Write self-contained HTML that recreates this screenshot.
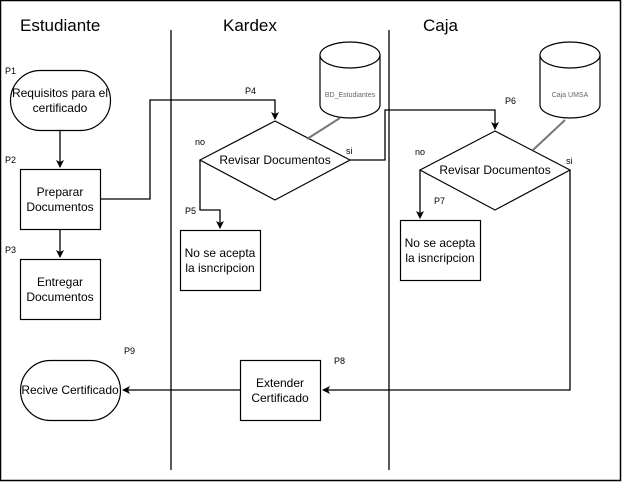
<!DOCTYPE html>
<html><head><meta charset="utf-8"><style>
html,body{margin:0;padding:0;background:#fff;width:622px;height:482px;overflow:hidden}
text{font-family:"Liberation Sans",Arial,sans-serif;fill:#000}
</style></head><body>
<svg width="622" height="482" viewBox="0 0 622 482" xmlns="http://www.w3.org/2000/svg">
<defs><marker id="a" markerWidth="10" markerHeight="10" refX="7" refY="4" orient="auto" markerUnits="userSpaceOnUse"><path d="M0,0 L8,4 L0,8 L2,4 Z" fill="#000"/></marker></defs>
<rect x="0.5" y="0.5" width="620" height="480" fill="#fff" stroke="#000" stroke-width="1.5"/>
<line x1="171" y1="30" x2="171" y2="470" stroke="#000" stroke-width="1.3"/>
<line x1="389" y1="30" x2="389" y2="470" stroke="#000" stroke-width="1.3"/>
<text x="20" y="31" font-size="17">Estudiante</text>
<text x="223" y="31" font-size="17">Kardex</text>
<text x="423" y="31" font-size="17">Caja</text>
<g font-size="9">
<text x="5" y="74">P1</text><text x="5" y="163">P2</text><text x="5" y="253">P3</text>
<text x="245" y="94">P4</text><text x="185" y="214">P5</text><text x="505" y="104">P6</text>
<text x="434" y="204">P7</text><text x="334" y="364">P8</text><text x="124" y="354">P9</text>
<text x="195" y="145">no</text><text x="346" y="154">si</text>
<text x="415" y="155">no</text><text x="566" y="164">si</text>
</g>
<g fill="#fff" stroke="#000" stroke-width="1.2">
<rect x="10.5" y="70.5" width="100" height="60" rx="30"/>
<rect x="20.5" y="169.5" width="80" height="60"/>
<rect x="20.5" y="259.5" width="80" height="60"/>
<rect x="20.5" y="360.5" width="100" height="60" rx="30"/>
<rect x="180.5" y="230.5" width="80" height="60"/>
<rect x="400.5" y="220.5" width="80" height="60"/>
<rect x="240.5" y="360.5" width="80" height="60"/>
<polygon points="200,160 275,121 350,160 275,200"/>
<polygon points="420,170 495,131 570,170 495,210"/>
</g>
<g stroke="#777" stroke-width="2"><line x1="340" y1="118" x2="307" y2="139"/><line x1="565" y1="120" x2="533" y2="150"/></g>
<g fill="#fff" stroke="#000" stroke-width="1.2">
<path d="M320,55 L320,105 A30,13 0 0 0 380,105 L380,55"/><ellipse cx="350" cy="55" rx="30" ry="13"/>
<path d="M540,55 L540,105 A30,13 0 0 0 600,105 L600,55"/><ellipse cx="570" cy="55" rx="30" ry="13"/>
</g>
<g fill="none" stroke="#000" stroke-width="1.3">
<path d="M60,130 V167" marker-end="url(#a)"/>
<path d="M60,229 V257" marker-end="url(#a)"/>
<path d="M100,199 H150 V100 H275 V119" marker-end="url(#a)"/>
<path d="M350,160 H385 V110 H495 V129" marker-end="url(#a)"/>
<path d="M200,160 V210 H220 V228" marker-end="url(#a)"/>
<path d="M420,170 V218" marker-end="url(#a)"/>
<path d="M570,170 V390 H323" marker-end="url(#a)"/>
<path d="M240,390 H123" marker-end="url(#a)"/>
</g>
<g font-size="12" text-anchor="middle">
<text x="60" y="97">Requisitos para el</text><text x="60" y="112">certificado</text>
<text x="60" y="196">Preparar</text><text x="60" y="211">Documentos</text>
<text x="60" y="286">Entregar</text><text x="60" y="301">Documentos</text>
<text x="70" y="394">Recive Certificado</text>
<text x="220" y="257">No se acepta</text><text x="220" y="272">la isncripcion</text>
<text x="440" y="247">No se acepta</text><text x="440" y="262">la isncripcion</text>
<text x="280" y="387">Extender</text><text x="280" y="402">Certificado</text>
<text x="275" y="164">Revisar Documentos</text>
<text x="495" y="174">Revisar Documentos</text>
</g>
<g font-size="7" text-anchor="middle"><text x="350" y="97" style="fill:#666">BD_Estudiantes</text><text x="570" y="97" style="fill:#666">Caja UMSA</text></g>
</svg>
</body></html>
